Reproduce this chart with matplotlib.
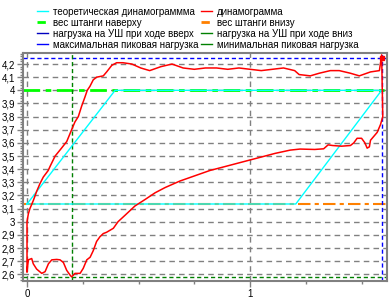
import numpy as np
import matplotlib
matplotlib.use("Agg")
import matplotlib.pyplot as plt
from matplotlib.lines import Line2D
from matplotlib.ticker import MultipleLocator, FuncFormatter

plt.rcParams["font.family"] = ["Liberation Sans", "DejaVu Sans"]

# dynamogram, upper branch (stroke up), left -> right
up_x = [0.0, 0.0, 0.006, 0.013, 0.028, 0.043, 0.058, 0.073, 0.095, 0.103, 0.126, 0.15,
        0.178, 0.2, 0.215, 0.23, 0.245, 0.26, 0.27, 0.282, 0.297, 0.312, 0.342, 0.357,
        0.38, 0.402, 0.43, 0.47, 0.51, 0.55, 0.6, 0.65, 0.7, 0.75, 0.8, 0.85, 0.9,
        0.95, 1.0, 1.05, 1.1, 1.15, 1.2, 1.22, 1.27, 1.31, 1.36, 1.4, 1.45, 1.49,
        1.54, 1.58, 1.59, 1.595]
up_y = [2.62, 3.0, 3.06, 3.1, 3.16, 3.23, 3.29, 3.34, 3.39, 3.42, 3.5, 3.55,
        3.61, 3.7, 3.76, 3.8, 3.88, 3.95, 4.0, 4.03, 4.08, 4.1, 4.11, 4.14,
        4.19, 4.21, 4.21, 4.2, 4.17, 4.15, 4.18, 4.2, 4.17, 4.16, 4.17, 4.17, 4.16,
        4.17, 4.16, 4.15, 4.16, 4.17, 4.15, 4.12, 4.11, 4.13, 4.15, 4.15, 4.13, 4.11,
        4.14, 4.15, 4.27, 3.8]

# dynamogram, lower branch (stroke down), right -> left
down_x = [1.595, 1.585, 1.57, 1.56, 1.54, 1.535, 1.525, 1.515, 1.5, 1.48, 1.465, 1.45,
          1.41, 1.37, 1.35, 1.33, 1.29, 1.224, 1.18, 1.112, 1.045, 1.0, 0.955, 0.888,
          0.82, 0.753, 0.686, 0.619, 0.574, 0.53, 0.484, 0.44, 0.408, 0.387, 0.357,
          0.342, 0.327, 0.312, 0.297, 0.283, 0.268, 0.252, 0.238, 0.215, 0.2, 0.193,
          0.178, 0.163, 0.148, 0.133, 0.111, 0.096, 0.081, 0.066, 0.043, 0.028, 0.021,
          0.006, 0.0]
down_y = [3.8, 3.74, 3.68, 3.66, 3.62, 3.57, 3.56, 3.6, 3.635, 3.635, 3.6, 3.58,
          3.575, 3.58, 3.585, 3.555, 3.55, 3.553, 3.545, 3.52, 3.49, 3.47, 3.45, 3.42,
          3.39, 3.35, 3.31, 3.26, 3.22, 3.17, 3.12, 3.05, 3.0, 2.95, 2.92,
          2.91, 2.886, 2.85, 2.78, 2.73, 2.71, 2.645, 2.607, 2.607, 2.58, 2.594,
          2.63, 2.69, 2.71, 2.713, 2.71, 2.68, 2.62, 2.607, 2.64, 2.68, 2.72,
          2.71, 2.62]

# theoretical dynamogram (parallelogram)
theor_x = [0.0, 0.395, 1.59, 1.205, 0.0]
theor_y = [3.135, 4.0, 4.0, 3.135, 3.135]

rod_top = 4.0
rod_bottom = 3.135
max_peak = 4.243
min_peak = 2.577
x_max_peak = 1.59
x_min_peak = 0.2

labels = ["теоретическая динамограммма", "динамограмма",
          "вес штанги наверху", "вес штанги внизу",
          "нагрузка на УШ при ходе вверх", "нагрузка на УШ при ходе вниз",
          "максимальная пиковая нагрузка", "минимальная пиковая нагрузка"]

fig = plt.figure(figsize=(3.91, 3.0), dpi=100)
ax = fig.add_axes([23 / 391, 19 / 300, 364 / 391, 228 / 300])

grid = "#808080"
ax.set_xlim(-0.018, 1.614)
ax.set_ylim(2.549, 4.284)

ax.axhline(rod_top, color="#00ff00", lw=2, ls=(0, (6, 2, 2, 2)), zorder=2)
ax.axhline(rod_bottom, color="#ff8000", lw=1.5, ls=(0, (6, 2, 2, 2)), zorder=2)
ax.plot(theor_x, theor_y, color="#00ffff", lw=1, zorder=3)
ax.axhline(max_peak, color="#0000ff", lw=1, ls=(0, (3, 2)), zorder=2)
ax.axvline(x_max_peak, color="#0000ff", lw=1, ls=(0, (3, 2)), zorder=2)
ax.axhline(min_peak, color="#008000", lw=1, ls=(0, (3, 2)), zorder=2)
ax.axvline(x_min_peak, color="#008000", lw=1, ls=(0, (3, 2)), zorder=2)
ax.plot(up_x + down_x, up_y + down_y, color="#ff0000", lw=1.1, zorder=4)
ax.plot([x_max_peak], [max_peak], "s", color="#ff0000", ms=2.5, zorder=5)

ax.yaxis.set_major_locator(MultipleLocator(0.1))
ax.yaxis.set_minor_locator(MultipleLocator(0.02))
ax.xaxis.set_major_locator(MultipleLocator(1))
ax.xaxis.set_minor_locator(MultipleLocator(0.25))
ax.yaxis.set_major_formatter(FuncFormatter(lambda v, p: ("%g" % round(v, 2)).replace(".", ",")))
ax.xaxis.set_major_formatter(FuncFormatter(lambda v, p: "%g" % round(v, 2)))
ax.grid(True, which="major", color=grid, ls=(0, (4, 3)), lw=1)
ax.set_axisbelow(True)
ax.tick_params(which="major", length=4, width=1, color=grid, labelsize=7, pad=1.5)
ax.tick_params(which="minor", length=2, width=1, color=grid)
for s in ax.spines.values():
    s.set_color(grid)
    s.set_linewidth(1.5)

handles = [Line2D([], [], color="#00ffff", lw=1),
           Line2D([], [], color="#ff0000", lw=1),
           Line2D([], [], color="#00ff00", lw=2, ls=(0, (3, 1, 1, 1))),
           Line2D([], [], color="#ff8000", lw=2, ls=(0, (3, 1, 1, 1))),
           Line2D([], [], color="#0000c0", lw=1),
           Line2D([], [], color="#008000", lw=1),
           Line2D([], [], color="#0000ff", lw=1),
           Line2D([], [], color="#008000", lw=1)]
# order column-wise for a 2-column legend
order = [0, 2, 4, 6, 1, 3, 5, 7]
fig.legend([handles[i] for i in order], [labels[i] for i in order],
           loc="upper left", bbox_to_anchor=(30 / 391, 1.0), ncol=2, frameon=False,
           fontsize=7, handlelength=1.2, handletextpad=0.5, columnspacing=0.2,
           labelspacing=0.1, borderaxespad=0.3)

fig.savefig("out.png", dpi=100)
